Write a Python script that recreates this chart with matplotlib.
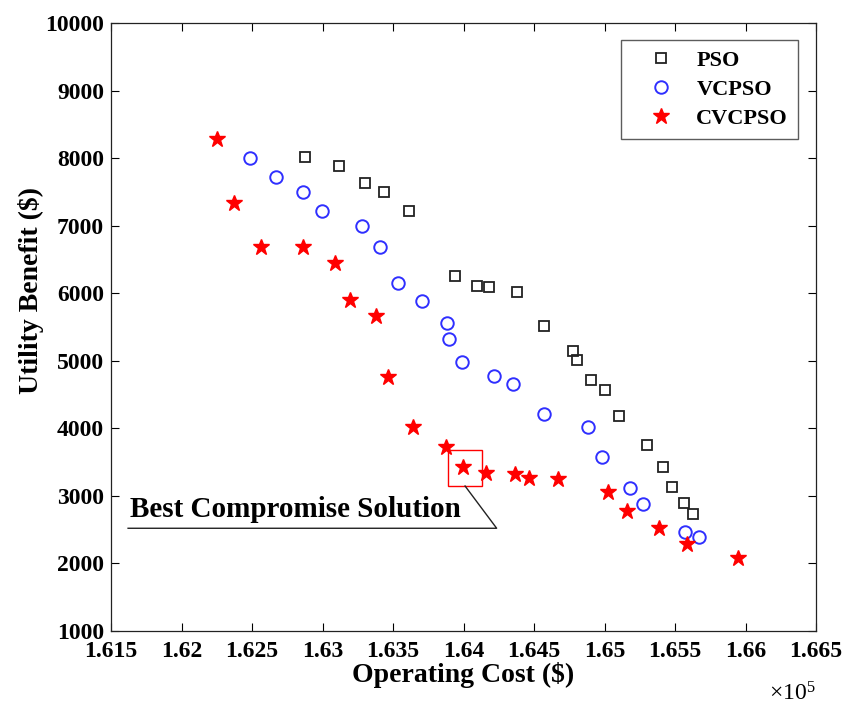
import matplotlib.pyplot as plt
from matplotlib.patches import Rectangle
from matplotlib.ticker import FuncFormatter

# Pareto fronts: operating cost ($) vs utility benefit ($)
pso_cost = [162876, 163119, 163301, 163436, 163613, 163940, 164098, 164183, 164379, 164573,
            164774, 164807, 164904, 165006, 165105, 165301, 165413, 165481, 165564, 165630]
pso_benefit = [8024, 7886, 7639, 7505, 7224, 6256, 6113, 6089, 6024, 5516,
               5150, 5012, 4711, 4567, 4187, 3748, 3422, 3126, 2889, 2735]

vcpso_cost = [162486, 162670, 162864, 162994, 163282, 163408, 163538, 163708, 163881, 163897,
              163989, 164216, 164349, 164572, 164881, 164980, 165181, 165275, 165573, 165672]
vcpso_benefit = [8000, 7727, 7496, 7224, 7001, 6681, 6157, 5880, 5556, 5327,
                 4987, 4775, 4656, 4215, 4024, 3570, 3111, 2874, 2468, 2385]

cvcpso_cost = [162254, 162372, 162562, 162864, 163089, 163195, 163377, 163467, 163640, 163876,
               163994, 164157, 164363, 164467, 164668, 165023, 165157, 165389, 165583, 165947]
cvcpso_benefit = [8281, 7333, 6690, 6681, 6444, 5901, 5664, 4764, 4024, 3727,
                  3422, 3333, 3323, 3268, 3249, 3052, 2775, 2519, 2281, 2079]

best_cost, best_benefit = 163994, 3422

plt.rcParams['font.family'] = ['Liberation Serif', 'DejaVu Serif']
plt.rcParams['font.weight'] = 'bold'

fig = plt.figure(figsize=(8.43, 7.11), dpi=100)
ax = fig.add_axes([0.1317, 0.1128, 0.8363, 0.8544])

ax.plot(pso_cost, pso_benefit, 's', ms=7, mfc='none', mec='#222222', mew=1.3, label='PSO')
ax.plot(vcpso_cost, vcpso_benefit, 'o', ms=9, mfc='none', mec='#2f2fff', mew=1.4, label='VCPSO')
ax.plot(cvcpso_cost, cvcpso_benefit, '*', ms=12, color='#ff0000', mec='#ff0000', label='CVCPSO')

# best compromise callout
ax.add_patch(Rectangle((best_cost - 102, best_benefit - 277), 237, 534,
                       fill=False, ec='#ff0000', lw=1))
ax.plot([164011, 164235, 161621], [3145, 2519, 2519], color='#222222', lw=1)
ax.text(161635, 2590, 'Best Compromise Solution', fontsize=21, fontweight='bold',
        ha='left', va='bottom')

ax.set_xlim(161500, 166500)
ax.set_ylim(1000, 10000)
ax.set_xticks([161500 + 500 * i for i in range(11)])
ax.set_yticks([1000 * i for i in range(1, 11)])
ax.xaxis.set_major_formatter(FuncFormatter(lambda v, p: f"{v / 1e5:g}"))
ax.tick_params(direction='in', top=True, right=True, length=6, width=0.8, labelsize=17)
ax.tick_params(axis='x', pad=7)
ax.tick_params(axis='y', pad=5)
for lbl in ax.get_xticklabels() + ax.get_yticklabels():
    lbl.set_fontweight('bold')
for s in ax.spines.values():
    s.set_linewidth(0.9)
    s.set_color('#222222')

ax.set_xlabel(r'Operating Cost (\$)', fontsize=20, fontweight='bold', labelpad=0)
ax.set_ylabel(r'Utility Benefit (\$)', fontsize=20, fontweight='bold', labelpad=1)
ax.yaxis.label.set_y(0.56)
fig.text(0.968, 0.008, r'$\mathregular{\times10^5}$', fontsize=17, fontweight='normal',
         ha='right', va='bottom')

leg = ax.legend(loc='upper right', bbox_to_anchor=(0.9745, 0.9725), borderaxespad=0,
                fancybox=False, edgecolor='#333333', fontsize=16, handletextpad=0.25,
                borderpad=0.45, labelspacing=0.38, handlelength=2.7)
leg.get_frame().set_linewidth(1)

fig.savefig('out.png', dpi=100)
